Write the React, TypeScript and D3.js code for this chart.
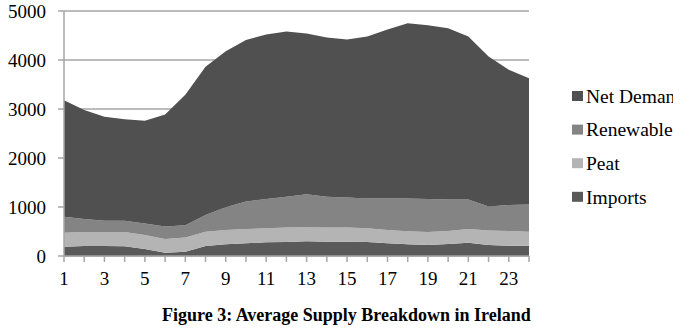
import React from 'react'
import * as d3 from 'd3'

const hours = d3.range(1, 25)
const imports = [190, 204, 204, 200, 143, 68, 88, 204, 240, 258, 279, 286, 299, 292, 292, 286, 258, 238, 224, 245, 272, 224, 211, 211]
const peat = [285, 286, 286, 290, 287, 279, 292, 293, 290, 292, 286, 294, 286, 288, 288, 279, 272, 265, 266, 265, 278, 296, 299, 286]
const renewable = [325, 265, 230, 230, 235, 253, 250, 338, 465, 560, 600, 630, 675, 630, 615, 610, 645, 672, 675, 645, 605, 490, 530, 553]
const netDemand = [2380, 2225, 2120, 2070, 2095, 2290, 2660, 3025, 3185, 3300, 3355, 3370, 3280, 3250, 3225, 3305, 3445, 3575, 3545, 3495, 3325, 3060, 2760, 2580]
const yTicks = [0, 1000, 2000, 3000, 4000, 5000]
const xLabels = [1, 3, 5, 7, 9, 11, 13, 15, 17, 19, 21, 23]
const legendNames = ['Net Demand', 'Renewable', 'Peat', 'Imports']

const colors = {
    imports: '#5a5a5a',
    peat: '#b4b4b4',
    renewable: '#848484',
    netDemand: '#505050',
}

const App = () => {
    const x = d3.scaleLinear().domain([1, 24]).range([64, 529])
    const y = d3.scaleLinear().domain([0, 5000]).range([256, 11])

    const rows = hours.map((h, i) => ({
        hour: h,
        imports: imports[i],
        peat: peat[i],
        renewable: renewable[i],
        netDemand: netDemand[i],
    }))
    const keys = ['imports', 'peat', 'renewable', 'netDemand']
    const series = d3.stack().keys(keys)(rows as any)

    const area = d3
        .area<any>()
        .x((d) => x(d.data.hour))
        .y0((d) => y(d[0]))
        .y1((d) => y(d[1]))

    const legendColors = [colors.netDemand, colors.renewable, colors.peat, colors.imports]
    const font = '"Liberation Serif", "Times New Roman", serif'

    return (
        <svg width={673} height={332} style={{ position: 'absolute', left: 0, top: 0, background: '#fff' }}>
            {yTicks.map((t) => (
                <line key={'g' + t} x1={x(1)} x2={x(24)} y1={y(t)} y2={y(t)} stroke="#a6a6a6" strokeWidth={1.5} />
            ))}
            {series.map((s) => (
                <path key={s.key} d={area(s) || ''} fill={(colors as any)[s.key]} />
            ))}
            <line x1={x(1)} x2={x(1)} y1={y(5000)} y2={y(0)} stroke="#a6a6a6" strokeWidth={1.5} />
            <line x1={x(1)} x2={x(24)} y1={y(0)} y2={y(0)} stroke="#a6a6a6" strokeWidth={1.5} />
            {hours.map((h) => (
                <line key={'t' + h} x1={x(h)} x2={x(h)} y1={y(0)} y2={y(0) + 6} stroke="#a6a6a6" strokeWidth={1.5} />
            ))}
            {yTicks.map((t) => (
                <line key={'yt' + t} x1={x(1) - 6} x2={x(1)} y1={y(t)} y2={y(t)} stroke="#a6a6a6" strokeWidth={1.5} />
            ))}
            {yTicks.map((t) => (
                <text key={'yl' + t} x={46} y={y(t)} dy="0.35em" textAnchor="end" fontFamily={font} fontSize={19} fill="#000">
                    {t}
                </text>
            ))}
            {xLabels.map((h) => (
                <text key={'xl' + h} x={x(h)} y={285} textAnchor="middle" fontFamily={font} fontSize={19} fill="#000">
                    {h}
                </text>
            ))}
            {legendNames.map((name, i) => (
                <g key={name} transform={`translate(572, ${96 + i * 33.6})`}>
                    <rect x={0} y={-5} width={11} height={10} fill={legendColors[i]} />
                    <text x={14} y={0} dy="0.35em" fontFamily={font} fontSize={19.5} fill="#000">
                        {name}
                    </text>
                </g>
            ))}
            <text x={162} y={321} fontFamily={font} fontSize={18} fontWeight="bold" fill="#000">
                Figure 3: Average Supply Breakdown in Ireland
            </text>
        </svg>
    )
}

export default App
